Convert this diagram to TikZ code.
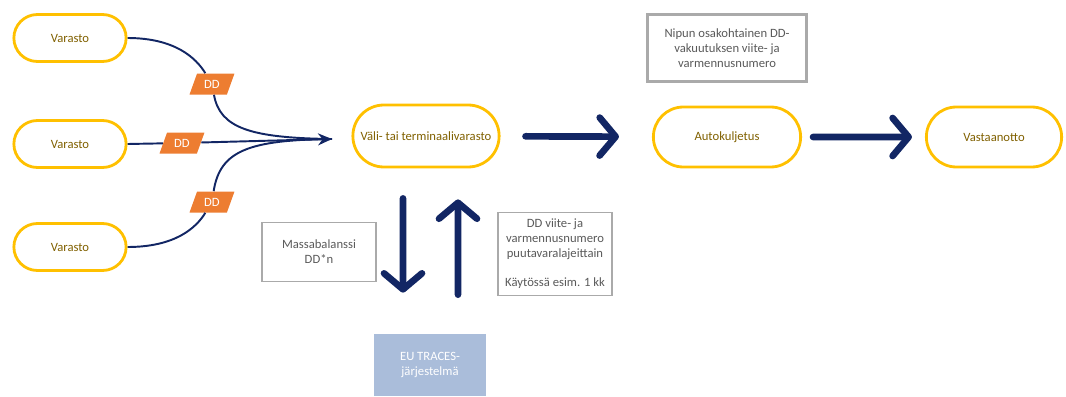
\documentclass[tikz,border=0pt]{standalone}
\usepackage{fontspec}
\setmainfont{Carlito}
\usepackage{xcolor}
\usepackage{tikz}
\usetikzlibrary{shapes.geometric, shapes.misc, arrows.meta}
\definecolor{flowgold}{RGB}{255,192,0}
\definecolor{flowtext}{RGB}{128,96,0}
\definecolor{flownavy}{RGB}{18,38,100}
\definecolor{flowdd}{RGB}{237,125,49}
\definecolor{notegray}{RGB}{89,89,89}
\definecolor{noteline}{RGB}{170,170,170}
\definecolor{tracesblue}{RGB}{170,189,218}

\begin{document}
\begin{tikzpicture}[x=0.02cm, y=-0.02cm,
		font=\fontsize{7.2}{8.6}\selectfont,
		stage/.style={rounded rectangle, draw=flowgold, line width=1.6pt, text=flowtext, minimum height=0.94cm, minimum width=2.48cm},
		ddtag/.style={trapezium, trapezium left angle=64, trapezium right angle=116, trapezium stretches=true, fill=flowdd, text=white, minimum width=0.9cm, minimum height=0.42cm, inner sep=0pt},
		note/.style={draw=noteline, text=notegray, align=center, line width=0.6pt},
		feed/.style={flownavy, line width=1.1pt},
		bigarrow/.style={flownavy, line width=3.8pt, line cap=round, -{Straight Barb[length=0.32cm, width=0.76cm, round]}}]
	\useasboundingbox (0,0) rectangle (1066,396);
	
	% Varastot
	\node[stage] (var1) at (70,38) {Varasto};
	\node[stage] (var2) at (70,144) {Varasto};
	\node[stage] (var3) at (70,247) {Varasto};
	
	% Kuljetusketju
	\node[stage, minimum width=3.16cm, minimum height=1.24cm] (vali) at (426,136) {Väli- tai terminaalivarasto};
	\node[stage, minimum width=3.18cm, minimum height=1.2cm] (auto) at (727,137) {Autokuljetus};
	\node[stage, minimum width=2.94cm, minimum height=1.2cm] (vast) at (994,137) {Vastaanotto};
	
	% DD-merkit
	\node[ddtag] (dd1) at (212,84) {DD};
	\node[ddtag] (dd2) at (182,143) {DD};
	\node[ddtag] (dd3) at (212,202) {DD};
	\coordinate (tip) at (332,139);
	
	% Tekstilaatikot
	\node[note, minimum width=2.28cm, minimum height=1.18cm] (massa) at (319,252) {Massabalanssi\\DD*n};
	\node[note, minimum width=2.28cm, minimum height=1.66cm] (viite) at (555,254) {DD viite- ja\\varmennusnumero\\puutavaralajeittain\\[1.1em]Käytössä esim. 1 kk};
	\node[note, line width=1.4pt, minimum width=3.18cm, minimum height=1.34cm] (nipun) at (727,48) {Nipun osakohtainen DD-\\vakuutuksen viite- ja\\varmennusnumero};
	\node[fill=tracesblue, text=white, align=center, minimum width=2.24cm, minimum height=1.24cm] (eu) at (430,365) {EU TRACES-\\järjestelmä};
	
	% Syöttökäyrät
	\draw[feed] (var1.east) .. controls (175,38) and (196,58) .. (dd1);
	\draw[feed] (dd1) .. controls (220,128) and (250,138) .. (tip);
	\draw[feed] (var2.east) -- (dd2);
	\draw[feed, -{Stealth[length=0.28cm, width=0.24cm]}] (dd2) -- (tip);
	\draw[feed] (var3.east) .. controls (175,247) and (196,228) .. (dd3);
	\draw[feed] (dd3) .. controls (220,150) and (250,140) .. (tip);
	
	% Paksut nuolet
	\draw[bigarrow, shorten <=0.5cm, shorten >=0.66cm] (vali) -- (auto);
	\draw[bigarrow, shorten <=0.22cm, shorten >=0.26cm] (auto) -- (vast);
	\draw[bigarrow, shorten <=0.6cm, shorten >=0.82cm] ([xshift=-0.46cm]vali.south) -- ([xshift=-0.54cm]eu.north);
	\draw[bigarrow, shorten <=0.78cm, shorten >=0.62cm] ([xshift=0.56cm]eu.north) -- ([xshift=0.64cm]vali.south);
\end{tikzpicture}
\end{document}
